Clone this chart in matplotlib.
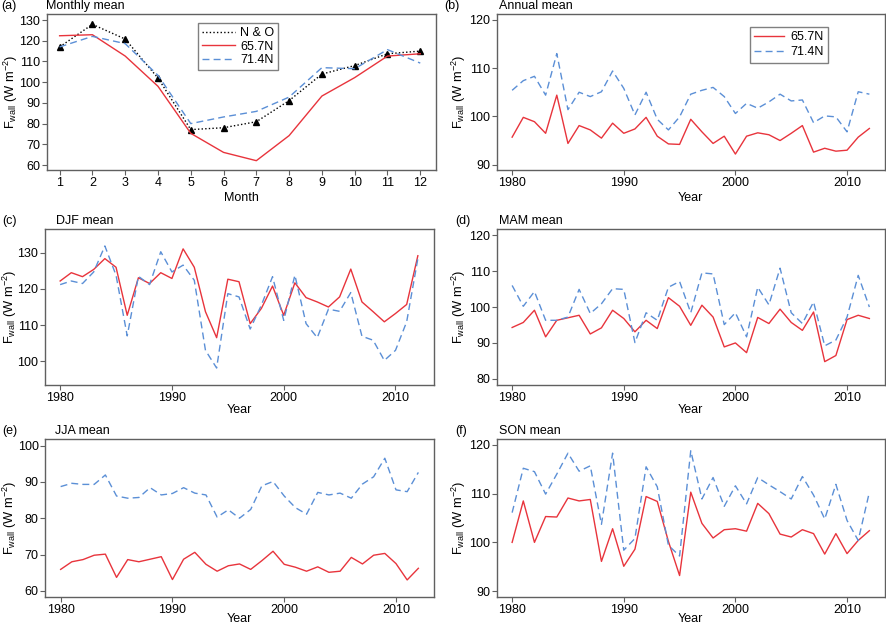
import numpy as np
import matplotlib
matplotlib.use('Agg')
import matplotlib.pyplot as plt

plt.rcParams['font.family'] = ['Liberation Sans', 'DejaVu Sans']
plt.rcParams['font.size'] = 9
plt.rcParams['mathtext.fontset'] = 'custom'
plt.rcParams['mathtext.rm'] = 'Liberation Sans'
plt.rcParams['mathtext.it'] = 'Liberation Sans:italic'

RED = '#e8343c'
BLUE = '#5b8fd6'
GRAY = '#606060'

months = np.arange(1, 13)
years = np.arange(1980, 2013)

# (a) monthly mean
mon_no = [117.0, 127.9, 120.8, 102.0, 77.1, 78.0, 80.9, 91.1, 103.9, 108.0, 113.7, 115.0]
mon_657 = [122.4, 122.9, 112.6, 98.0, 75.3, 66.1, 62.1, 74.2, 93.3, 102.2, 112.6, 113.7]
mon_714 = [117.0, 122.1, 118.6, 103.3, 80.0, 83.2, 85.9, 92.8, 107.0, 106.5, 115.7, 109.2]

# (b) annual mean
ann_657 = [95.7, 99.8, 98.9, 96.5, 104.4, 94.4, 98.1, 97.2, 95.5, 98.6, 96.5, 97.4, 99.8,
           95.9, 94.3, 94.2, 99.4, 96.8, 94.4, 95.9, 92.2, 95.9, 96.6, 96.2, 95.0, 96.5,
           98.1, 92.6, 93.4, 92.8, 93.0, 95.7, 97.5]
ann_714 = [105.4, 107.4, 108.3, 104.4, 113.0, 101.4, 105.0, 104.1, 105.1, 109.4, 105.8,
           100.3, 105.0, 99.4, 97.2, 99.9, 104.6, 105.4, 106.0, 104.1, 100.6, 102.7, 101.7,
           103.0, 104.6, 103.2, 103.4, 98.7, 100.1, 99.9, 96.8, 105.1, 104.6]

# (c) DJF mean
djf_657 = [122.2, 124.5, 123.4, 125.4, 128.4, 126.0, 112.7, 123.1, 121.5, 124.5, 122.9,
           131.1, 126.0, 113.7, 106.5, 122.7, 122.0, 110.4, 114.6, 120.8, 112.7, 121.7,
           117.6, 116.4, 115.0, 117.8, 125.5, 116.4, 113.7, 110.9, 113.2, 115.7, 129.2]
djf_714 = [121.2, 122.2, 121.5, 124.7, 131.9, 123.8, 107.0, 123.5, 121.2, 130.3, 124.7,
           126.6, 122.4, 103.0, 98.1, 118.7, 117.8, 108.9, 115.5, 123.4, 111.3, 123.8,
           110.4, 106.5, 114.4, 113.8, 119.0, 106.9, 105.8, 100.2, 103.0, 110.9, 128.4]

# (d) MAM mean
mam_657 = [94.3, 95.7, 99.1, 91.7, 96.3, 97.0, 97.7, 92.5, 94.2, 99.1, 96.8, 93.1, 96.3,
           94.0, 102.6, 100.2, 94.9, 100.5, 97.2, 88.9, 90.0, 87.3, 97.1, 95.4, 99.4, 95.7,
           93.5, 98.6, 84.8, 86.5, 96.5, 97.7, 96.8]
mam_714 = [106.0, 100.2, 104.3, 96.3, 96.3, 97.2, 104.9, 98.2, 100.9, 105.1, 104.9, 90.1,
           98.4, 96.3, 105.5, 107.1, 98.4, 109.5, 109.2, 95.1, 98.4, 91.7, 105.5, 100.6,
           110.8, 98.4, 95.4, 101.4, 89.2, 90.8, 97.2, 108.8, 100.0]

# (e) JJA mean
jja_657 = [65.9, 68.0, 68.6, 69.8, 70.1, 63.7, 68.6, 68.0, 68.7, 69.4, 63.1, 68.7, 70.6,
           67.3, 65.4, 66.9, 67.4, 65.9, 68.3, 70.9, 67.3, 66.5, 65.4, 66.6, 65.1, 65.4,
           69.2, 67.4, 69.8, 70.3, 67.5, 63.0, 66.2]
jja_714 = [88.7, 89.6, 89.3, 89.3, 91.9, 86.1, 85.5, 85.7, 88.4, 86.4, 86.8, 88.4, 86.9,
           86.4, 80.3, 82.3, 80.0, 82.4, 88.9, 90.1, 86.1, 82.9, 81.1, 87.1, 86.4, 86.9,
           85.5, 89.4, 91.4, 96.5, 87.8, 87.3, 92.6]

# (f) SON mean
son_657 = [100.0, 108.5, 100.0, 105.3, 105.2, 109.1, 108.5, 108.8, 96.1, 102.8, 95.1,
           98.6, 109.4, 108.4, 100.2, 93.2, 110.3, 103.9, 100.9, 102.6, 102.8, 102.3, 108.0,
           105.9, 101.7, 101.1, 102.6, 101.8, 97.6, 101.8, 97.7, 100.4, 102.4]
son_714 = [106.1, 115.2, 114.5, 109.9, 114.0, 118.3, 114.6, 115.7, 103.7, 118.3, 98.4,
           100.8, 115.5, 111.4, 99.4, 97.2, 118.8, 108.9, 113.3, 107.4, 111.6, 107.9, 113.3,
           111.8, 110.4, 108.9, 113.5, 109.7, 104.8, 111.9, 104.5, 100.4, 110.3]

panels = [
    ('(a)', 'Monthly mean', mon_657, mon_714, (57.6, 132.9), range(60, 131, 10)),
    ('(b)', 'Annual mean', ann_657, ann_714, (88.9, 121.2), range(90, 121, 10)),
    ('(c)', 'DJF mean', djf_657, djf_714, (93.4, 136.6), range(100, 131, 10)),
    ('(d)', 'MAM mean', mam_657, mam_714, (78.3, 121.7), range(80, 121, 10)),
    ('(e)', 'JJA mean', jja_657, jja_714, (58.3, 101.8), range(60, 101, 10)),
    ('(f)', 'SON mean', son_657, son_714, (88.8, 121.2), range(90, 121, 10)),
]

W, H = 886, 625
fig = plt.figure(figsize=(W / 100, H / 100), dpi=100)

# axes boxes in pixels: left, top, right, bottom
boxes = [(46.5, 14, 436, 170), (496.5, 14, 885, 170),
         (44.5, 229, 433.5, 385), (496.5, 229, 885, 385),
         (45, 439, 434, 597), (496.5, 439, 885, 597)]
tag_x = [1, 444, 2, 455, 2, 455]
title_dx = [0, 2, 11, 2, 10, 2]
xlab_gap = [22, 22, 19, 19, 16, 16]
ylab_right = [20, 468, 19, 468, 19, 468]

for i, (tag, title, s657, s714, ylim, yt) in enumerate(panels):
    l, t, r, b = boxes[i]
    ax = fig.add_axes([l / W, 1 - b / H, (r - l) / W, (b - t) / H])
    if i == 0:
        x = months
        ax.plot(x, mon_no, color='black', lw=1.0, ls=(0, (1, 1.6)), label='N & O')
        ax.plot(x, mon_no, color='black', ls='none', marker='^', ms=4.5)
        ax.set_xlim(0.6, 12.48)
        ax.set_xticks(months)
        ax.set_xlabel('Month')
    else:
        x = years
        ax.set_xlim(1978.6, 2013.4)
        ax.set_xticks([1980, 1990, 2000, 2010])
        ax.set_xlabel('Year')
    ax.plot(x, s657, color=RED, lw=1.0, label='65.7N')
    ax.plot(x, s714, color=BLUE, lw=1.0, ls=(0, (5, 3)), label='71.4N')
    ax.set_ylim(*ylim)
    ax.set_yticks(list(yt))
    ax.set_ylabel(r'F$_{\rm wall}$ (W m$^{-2}$)', fontsize=9.3)
    ax.yaxis.set_label_coords((ylab_right[i] - l) / (r - l), 0.5)
    ax.xaxis.set_label_coords(0.5, -xlab_gap[i] / (b - t))
    for sp in ax.spines.values():
        sp.set_color(GRAY)
        sp.set_linewidth(1.0)
    ax.tick_params(direction='out', length=3.5, width=0.8, color=GRAY, pad=1.5,
                   top=False, right=False)
    ax.tick_params(axis='y', pad=1.1)
    ax.text(title_dx[i] / (r - l), 1 + 5 / (b - t), title, transform=ax.transAxes,
            ha='left', va='baseline')
    fig.text(tag_x[i] / W, 1 - (t - 5) / H, tag, ha='left', va='baseline')

    if i == 0:
        leg = ax.legend(loc='upper left', bbox_to_anchor=(0.389, 0.942), borderaxespad=0,
                        fancybox=False, handlelength=2.6, handletextpad=0.4,
                        labelspacing=0.1, borderpad=0.35)
    elif i == 1:
        leg = ax.legend(loc='upper left', bbox_to_anchor=(0.6525, 0.917), borderaxespad=0,
                        fancybox=False, handlelength=2.4, handletextpad=0.5,
                        labelspacing=0.25, borderpad=0.35)
    if i < 2:
        leg.get_frame().set_edgecolor(GRAY)
        leg.get_frame().set_linewidth(1.0)

fig.savefig('out.png', dpi=100)
